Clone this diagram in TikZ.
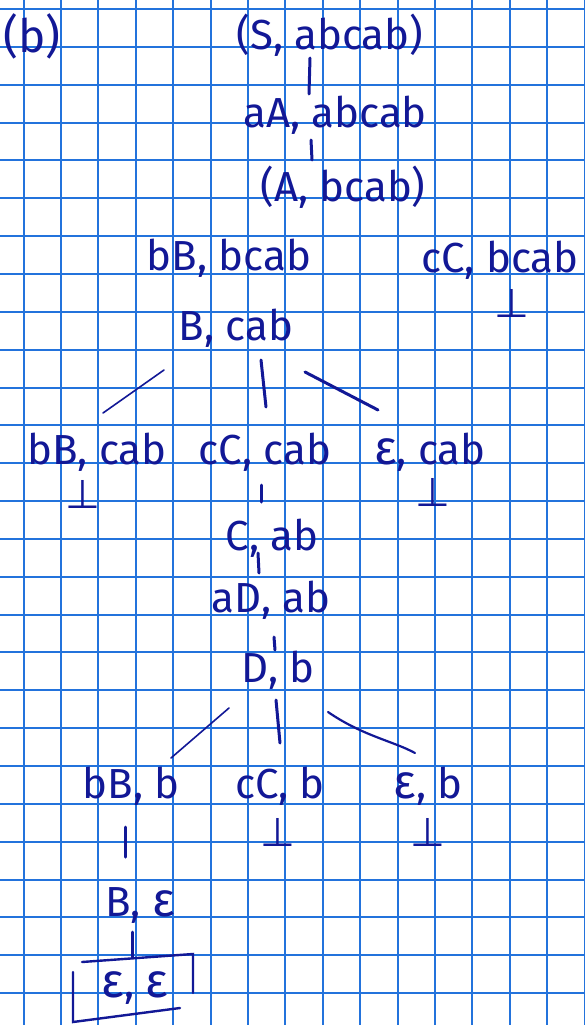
\documentclass[tikz,border=0pt]{standalone}
\usepackage{fontspec}
\setmainfont{Fira Sans}
\newfontfamily\symfont{DejaVu Sans}
\usetikzlibrary{calc}
\definecolor{ink}{RGB}{18,24,150}
\definecolor{gridblue}{RGB}{35,115,220}
\newcommand\myeps{{\fontsize{48}{48}\selectfont ε}}
\tikzset{
  lbl/.style={text=ink, inner sep=0pt, font=\fontsize{42}{46}\selectfont},
  bot/.style={text=ink, inner sep=0pt, font=\symfont\fontsize{40}{44}\selectfont},
  thick edge/.style={draw=ink, line width=3pt, line cap=round},
  thin edge/.style={draw=ink, line width=1.6pt, line cap=round},
}
\begin{document}
\begin{tikzpicture}[x=1pt,y=-1pt]
\useasboundingbox (0,0) rectangle (584,1025);
\fill[white] (0,0) rectangle (584,1025);
% grid paper
\foreach \k in {0,...,15} \draw[gridblue, line width=2pt] ({23.5+37.4*\k},0) -- ({23.5+37.4*\k},1025);
\foreach \k in {0,...,26} \draw[gridblue, line width=2pt] (0,{9+37.85*\k}) -- (584,{9+37.85*\k});

% labels
\node[lbl, font=\fontsize{46}{50}\selectfont] (tag) at (32,36) {(b)};
\node[lbl] (S)   at (330,35)  {(S, abcab)};
\node[lbl] (aA)  at (335,115) {aA, abcab};
\node[lbl] (A)   at (343,187) {(A, bcab)};
\node[lbl] (bB1) at (229,258) {bB, bcab};
\node[lbl] (cC1) at (500,260) {cC, bcab};
\node[lbl] (B1)  at (236,328) {B, cab};
\node[lbl] (bB2) at (97,452)  {bB, cab};
\node[lbl] (cC2) at (265,452) {cC, cab};
\node[lbl] (e2)  at (430,452) {\myeps, cab};
\node[lbl] (C)   at (272,538) {C, ab};
\node[lbl] (aD)  at (271,600) {aD, ab};
\node[lbl] (D)   at (278,670) {D, b};
\node[lbl] (bB3) at (131,786) {bB, b};
\node[lbl] (cC3) at (280,786) {cC, b};
\node[lbl] (e3)  at (428,786) {\myeps, b};
\node[lbl] (B2)  at (140,906) {B, \myeps};
\node[lbl] (ee)  at (135,988) {\myeps, \myeps};

% bottom symbols
\node[bot] (f1) at (512,303) {⊥};
\node[bot] (f2) at (83,494)  {⊥};
\node[bot] (f3) at (433,492) {⊥};
\node[bot] (f4) at (278,832) {⊥};
\node[bot] (f5) at (428,832) {⊥};

% connectors
\draw[thick edge] ([shift={(-20,23)}]S.center) -- ([shift={(-26,-21)}]aA.center);
\draw[thick edge] ([shift={(-24,25)}]aA.center) -- ([shift={(-31,-27)}]A.center);
\draw[thin edge]  ([shift={(-72,42)}]B1.center) -- ([shift={(6,-39)}]bB2.center);
\draw[thick edge] ([shift={(25,32)}]B1.center) -- ([shift={(1,-45)}]cC2.center);
\draw[thick edge] ([shift={(69,44)}]B1.center) -- ([shift={(-52,-42)}]e2.center);
\draw[thick edge] ([shift={(-4,33)}]cC2.center) -- ([shift={(-11,-36)}]C.center);
\draw[thick edge] ([shift={(-14,15)}]C.center) -- ([shift={(-12,-27)}]aD.center);
\draw[thick edge] ([shift={(3,37)}]aD.center) -- ([shift={(-3,-20)}]D.center);
\draw[thin edge]  ([shift={(-49,38)}]D.center) -- ([shift={(40,-28)}]bB3.center);
\draw[thick edge] ([shift={(-2,30)}]D.center) -- ([shift={(0,-43)}]cC3.center);
\draw[thin edge, line width=2.2pt] ([shift={(50,42)}]D.center) .. controls ([shift={(85,66)}]D.center) and ([shift={(-35,-45)}]e3.center) .. ([shift={(-13,-33)}]e3.center);
\draw[thick edge] ([shift={(-6,41)}]bB3.center) -- ([shift={(-15,-49)}]B2.center);
\draw[thick edge] ([shift={(-8,26)}]B2.center) -- ([shift={(-3,-31)}]ee.center);

% hand-drawn box round (ε, ε)
\draw[thick edge, line width=2.4pt] ([shift={(-53,-26)}]ee.center) -- ([shift={(58,-34)}]ee.center) -- ([shift={(58,5)}]ee.center);
\draw[thick edge, line width=2.4pt] ([shift={(-62,-16)}]ee.center) -- ([shift={(-62,34)}]ee.center) -- ([shift={(45,20)}]ee.center);
\end{tikzpicture}
\end{document}
